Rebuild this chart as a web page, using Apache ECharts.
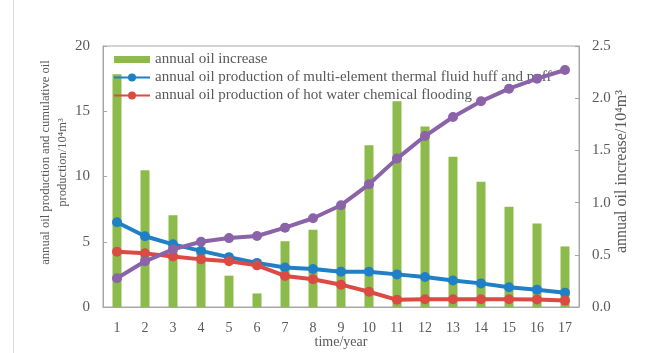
<!DOCTYPE html>
<html>
<head>
<meta charset="utf-8">
<script src="https://cdn.jsdelivr.net/npm/echarts@6/dist/echarts.min.js"></script>
<style>
  html, body { margin: 0; padding: 0; background: #fff; }
  #chart { width: 654px; height: 353px; }
</style>
</head>
<body>
<div id="chart"></div>
<script>
// Years of production
const years = ['1','2','3','4','5','6','7','8','9','10','11','12','13','14','15','16','17'];

// Annual oil increase (10^4 m^3), right axis
const annualIncrease = [2.23, 1.31, 0.88, 0.56, 0.30, 0.13, 0.63, 0.74, 0.96, 1.55, 1.97, 1.73, 1.44, 1.20, 0.96, 0.80, 0.58];

// Annual oil production, multi-element thermal fluid huff and puff (10^4 m^3)
const huffPuff = [6.49, 5.42, 4.80, 4.30, 3.82, 3.38, 3.02, 2.91, 2.70, 2.70, 2.50, 2.30, 2.03, 1.81, 1.52, 1.33, 1.10];

// Annual oil production, hot water chemical flooding (10^4 m^3)
const hotWater = [4.24, 4.11, 3.87, 3.65, 3.50, 3.19, 2.38, 2.12, 1.71, 1.17, 0.55, 0.59, 0.59, 0.59, 0.59, 0.57, 0.49];

// Cumulative oil production (10^4 m^3)
const cumulative = [2.20, 3.50, 4.42, 5.00, 5.28, 5.44, 6.08, 6.80, 7.80, 9.40, 11.37, 13.10, 14.56, 15.76, 16.73, 17.50, 18.16];

// Axis ranges
const leftTicks = { min: 0, max: 20, interval: 5 };
const rightTicks = { min: 0, max: 2.5, interval: 0.5 };

const FONT = 'Liberation Serif';
const TEXT = '#595959';
const FRAME = '#a6a6a6';

const chart = echarts.init(document.getElementById('chart'), null, { renderer: 'canvas' });

chart.setOption({
  animation: false,
  backgroundColor: '#fff',
  textStyle: { fontFamily: FONT, color: TEXT },
  grid: {
    left: 103, right: 75, top: 46, bottom: 46,
    outerBoundsMode: 'none',
    containLabel: false,
    show: true, borderColor: FRAME, borderWidth: 1
  },
  graphic: [{
    type: 'line',
    shape: { x1: 13.5, y1: 0, x2: 13.5, y2: 353 },
    style: { stroke: '#d9d9d9', lineWidth: 1 }
  }],
  legend: {
    orient: 'vertical',
    left: 113, top: 52,
    padding: 0,
    itemGap: 3,
    itemWidth: 36, itemHeight: 10,
    textStyle: { fontFamily: FONT, fontSize: 15, color: TEXT },
    data: [
      { name: 'annual oil increase', icon: 'path://M0,0H36V7H0Z' },
      { name: 'annual oil production of multi-element thermal fluid huff and puff' },
      { name: 'annual oil production of hot water chemical flooding' }
    ]
  },
  xAxis: {
    type: 'category',
    data: years,
    name: 'time/year',
    nameLocation: 'middle',
    nameGap: 28,
    nameMoveOverlap: false,
    nameTextStyle: { fontFamily: FONT, fontSize: 14, color: TEXT },
    axisLine: { lineStyle: { color: FRAME } },
    axisTick: { show: false },
    axisLabel: { margin: 14, fontFamily: FONT, fontSize: 14, color: TEXT }
  },
  yAxis: [{
    type: 'value',
    min: leftTicks.min, max: leftTicks.max, interval: leftTicks.interval,
    name: 'annual oil production and cumulative oil\nproduction/10⁴m³',
    nameLocation: 'middle',
    nameRotate: 90,
    nameGap: 32,
    nameMoveOverlap: false,
    nameTextStyle: { fontFamily: FONT, fontSize: 12.6, color: TEXT, lineHeight: 17, padding: [0, 0, 0, 28] },
    axisLine: { show: true, lineStyle: { color: FRAME } },
    axisTick: { show: true, inside: true, length: 4, lineStyle: { color: FRAME } },
    splitLine: { show: false },
    axisLabel: { margin: 13, fontFamily: FONT, fontSize: 15, color: TEXT }
  }, {
    type: 'value',
    position: 'right',
    min: rightTicks.min, max: rightTicks.max, interval: rightTicks.interval,
    name: 'annual oil increase/10⁴m³',
    nameLocation: 'middle',
    nameRotate: 90,
    nameGap: 35,
    nameMoveOverlap: false,
    nameTextStyle: { fontFamily: FONT, fontSize: 16, color: TEXT, padding: [0, 0, 0, 10] },
    axisLine: { show: true, lineStyle: { color: FRAME } },
    axisTick: { show: true, inside: true, length: 4, lineStyle: { color: FRAME } },
    splitLine: { show: false },
    axisLabel: {
      margin: 13, fontFamily: FONT, fontSize: 15, color: TEXT,
      formatter: v => v.toFixed(1)
    }
  }],
  series: [{
    name: 'annual oil increase',
    type: 'bar',
    yAxisIndex: 1,
    data: annualIncrease,
    barWidth: 9,
    itemStyle: { color: '#8cbb4c' },
    z: 1
  }, {
    name: 'annual oil production of multi-element thermal fluid huff and puff',
    type: 'line',
    data: huffPuff,
    symbol: 'circle', symbolSize: 10,
    lineStyle: { width: 4, color: '#1f80c6' },
    itemStyle: { color: '#1f80c6' },
    z: 3
  }, {
    name: 'annual oil production of hot water chemical flooding',
    type: 'line',
    data: hotWater,
    symbol: 'circle', symbolSize: 10,
    lineStyle: { width: 4, color: '#dc4a44' },
    itemStyle: { color: '#dc4a44' },
    z: 4
  }, {
    name: 'cumulative oil production',
    type: 'line',
    data: cumulative,
    symbol: 'circle', symbolSize: 10,
    lineStyle: { width: 4, color: '#8a63a8' },
    itemStyle: { color: '#8a63a8' },
    z: 5
  }]
});
</script>
</body>
</html>
